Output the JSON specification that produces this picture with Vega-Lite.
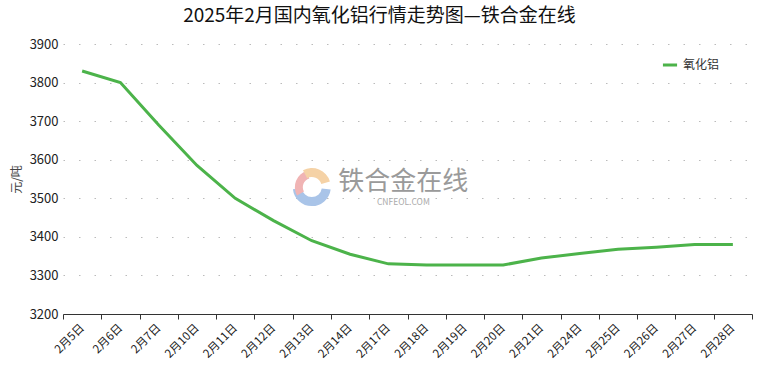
{
  "$schema": "https://vega.github.io/schema/vega-lite/v6.json",
  "width": 689,
  "height": 270,
  "autosize": "none",
  "padding": {"left": 63, "top": 44, "right": 8, "bottom": 59},
  "background": "white",
  "title": {
    "text": "2025年2月国内氧化铝行情走势图—铁合金在线",
    "font": "Noto Sans CJK SC",
    "fontSize": 19,
    "fontWeight": "normal",
    "color": "#111",
    "anchor": "middle",
    "dx": -28,
    "offset": 12
  },
  "config": {
    "view": {"stroke": null},
    "font": "Noto Sans CJK SC"
  },
  "datasets": {
    "prices": [
      {"date": "2月5日", "price": 3830, "series": "氧化铝"},
      {"date": "2月6日", "price": 3800, "series": "氧化铝"},
      {"date": "2月7日", "price": 3690, "series": "氧化铝"},
      {"date": "2月10日", "price": 3585, "series": "氧化铝"},
      {"date": "2月11日", "price": 3500, "series": "氧化铝"},
      {"date": "2月12日", "price": 3442, "series": "氧化铝"},
      {"date": "2月13日", "price": 3390, "series": "氧化铝"},
      {"date": "2月14日", "price": 3355, "series": "氧化铝"},
      {"date": "2月17日", "price": 3330, "series": "氧化铝"},
      {"date": "2月18日", "price": 3327, "series": "氧化铝"},
      {"date": "2月19日", "price": 3327, "series": "氧化铝"},
      {"date": "2月20日", "price": 3327, "series": "氧化铝"},
      {"date": "2月21日", "price": 3345, "series": "氧化铝"},
      {"date": "2月24日", "price": 3357, "series": "氧化铝"},
      {"date": "2月25日", "price": 3368, "series": "氧化铝"},
      {"date": "2月26日", "price": 3373, "series": "氧化铝"},
      {"date": "2月27日", "price": 3380, "series": "氧化铝"},
      {"date": "2月28日", "price": 3380, "series": "氧化铝"}
    ],
    "watermark": [
      {"date": "2月17日", "price": 3542, "label": "铁合金在线"}
    ],
    "watermark2": [
      {"date": "2月17日", "price": 3490, "label": "CNFEOL.COM"}
    ],
    "logo": [
      {"date": "2月13日", "price": 3529}
    ]
  },
  "encoding": {
    "x": {
      "field": "date",
      "type": "ordinal",
      "sort": null,
      "scale": {
        "type": "band",
        "paddingInner": 0,
        "paddingOuter": 0,
        "domain": ["2月5日", "2月6日", "2月7日", "2月10日", "2月11日", "2月12日", "2月13日", "2月14日", "2月17日", "2月18日", "2月19日", "2月20日", "2月21日", "2月24日", "2月25日", "2月26日", "2月27日", "2月28日"]
      },
      "axis": {
        "title": null,
        "tickBand": "extent",
        "labelAngle": -45,
        "labelAlign": "right",
        "labelBaseline": "middle",
        "labelFontSize": 11.5,
        "labelColor": "#222",
        "labelPadding": 7,
        "labelOverlap": false,
        "domainColor": "#333",
        "tickColor": "#333",
        "tickSize": 5,
        "grid": false
      }
    },
    "y": {
      "field": "price",
      "type": "quantitative",
      "scale": {"domain": [3200, 3900], "nice": false, "zero": false},
      "axis": {
        "title": "元/吨",
        "titleFontSize": 12,
        "titleFontWeight": "normal",
        "titleColor": "#444",
        "titlePadding": 6,
        "format": "d",
        "values": [3200, 3300, 3400, 3500, 3600, 3700, 3800, 3900],
        "labelFontSize": 13,
        "labelColor": "#222",
        "labelPadding": 5,
        "labelOverlap": false,
        "domain": false,
        "ticks": false,
        "grid": true,
        "gridColor": "#bbbbbb",
        "gridDash": [1.5, 14],
        "gridWidth": 1.2
      }
    }
  },
  "layer": [
    {
      "data": {"name": "logo"},
      "mark": {"type": "arc", "color": "#a9c4e8", "innerRadius": 10, "outerRadius": 19, "theta": 1.7, "theta2": 4.6, "dx": 4},
      "encoding": {}
    },
    {
      "data": {"name": "logo"},
      "mark": {"type": "arc", "color": "#f0b4b4", "innerRadius": 9, "outerRadius": 17, "theta": 4.2, "theta2": 6.0, "dx": 4},
      "encoding": {}
    },
    {
      "data": {"name": "logo"},
      "mark": {"type": "arc", "color": "#f5d2a6", "innerRadius": 10, "outerRadius": 19, "theta": 5.8, "theta2": 7.55, "dx": 4},
      "encoding": {}
    },
    {
      "data": {"name": "watermark"},
      "mark": {"type": "text", "color": "#9a9a9a", "fontSize": 26, "font": "Noto Sans CJK SC", "dx": 15},
      "encoding": {
        "text": {"field": "label"}
      }
    },
    {
      "data": {"name": "watermark2"},
      "mark": {"type": "text", "color": "#aaaaaa", "fontSize": 8.5, "dx": 15},
      "encoding": {
        "text": {"field": "label"}
      }
    },
    {
      "data": {"name": "prices"},
      "mark": {"type": "line", "interpolate": "linear", "strokeWidth": 3},
      "encoding": {
        "color": {
          "field": "series",
          "type": "nominal",
          "scale": {"range": ["#4cb34a"]},
          "legend": {
            "title": null,
            "orient": "none",
            "legendX": 598,
            "legendY": 12,
            "symbolType": "stroke",
            "symbolStrokeWidth": 3,
            "symbolSize": 200,
            "labelFontSize": 12,
            "labelColor": "#333"
          }
        }
      }
    }
  ]
}
